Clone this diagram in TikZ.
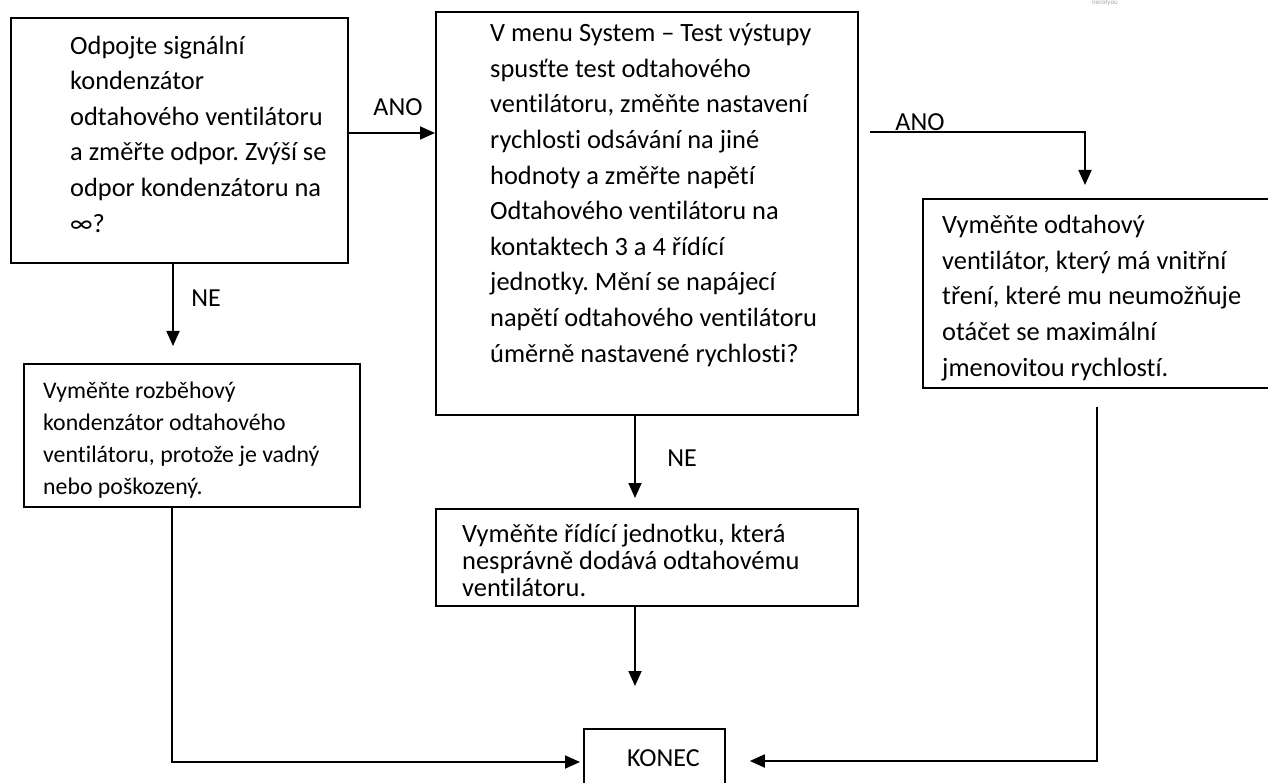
\documentclass[tikz,border=0pt]{standalone}
\usepackage{fontspec}
\setmainfont{Carlito}[Ligatures=NoCommon]
\usetikzlibrary{arrows.meta,calc,positioning}
\frenchspacing

\tikzset{
  box/.style={draw, line width=1.8pt, anchor=north west, inner sep=0pt},
  txt/.style={anchor=west, align=left, inner sep=0pt, font=\fontsize{26.4}{35.6}\selectfont},
  arr/.style={line width=1.8pt, -{Triangle[length=15pt,width=13pt]}},
  lbl/.style={inner sep=0pt, font=\fontsize{26}{30}\selectfont},
}

\begin{document}
\begin{tikzpicture}[x=1pt, y=-1pt]
  \useasboundingbox (0,0) rectangle (1268,783);
  % boxes
  \node[box, minimum width=337pt, minimum height=245pt] (q1) at (10,17) {};
  \node[box, minimum width=422pt, minimum height=403pt] (q2) at (435,11) {};
  \node[box, minimum width=336pt, minimum height=143pt] (a1) at (23,363) {};
  \node[box, minimum width=422pt, minimum height=97pt] (a2) at (435,508) {};
  \node[box, minimum width=352pt, minimum height=189pt] (a3) at (922,198) {};
  \node[box, lbl, minimum width=141pt, minimum height=58pt] (konec) at (583,728) {\kern18pt KONEC};
  % texts
  \node[txt] (q1t) at (70,134) {Odpojte signální\\kondenzátor\\odtahového ventilátoru\\a změřte odpor. Zvýší se\\odpor kondenzátoru na\\∞?};
  \node[txt] (q2t) at (490,195) {V menu System – Test výstupy\\spusťte test odtahového\\ventilátoru, změňte nastavení\\rychlosti odsávání na jiné\\hodnoty a změřte napětí\\Odtahového ventilátoru na\\kontaktech 3 a 4 řídící\\jednotky. Mění se napájecí\\napětí odtahového ventilátoru\\úměrně nastavené rychlosti?};
  \node[txt] (a3t) at (942,298) {Vyměňte odtahový\\ventilátor, který má vnitřní\\tření, které mu neumožňuje\\otáčet se maximální\\jmenovitou rychlostí.};
  \node[txt, font=\fontsize{23.8}{32}\selectfont] (a1t) at (43,440) {Vyměňte rozběhový\\kondenzátor odtahového\\ventilátoru, protože je vadný\\nebo poškozený.};
  \node[txt, font=\fontsize{26.4}{27}\selectfont] (a2t) at (462,560) {Vyměňte řídící jednotku, která\\nesprávně dodává odtahovému\\ventilátoru.};
  \node[text=black!35, inner sep=0pt, font=\fontsize{7}{7}\selectfont] (wm) at (1105,3) {nerofyou};
  % free ends
  \coordinate (yes2) at (870,132);
  \coordinate (t2) at (1085,185);
  \coordinate (r3) at (1097,407);
  % connectors
  \draw[arr] (q1.east |- 0,133) -- (q2.west |- 0,133);
  \node[lbl] (l1) at (398,107) {ANO};
  \draw[arr] (yes2) -| (t2);
  \node[lbl] (l2) at (920,122) {ANO};
  \draw[arr] (q1.south -| 173,0) -- (173,346);
  \node[lbl] (l3) at (206,298) {NE};
  \draw[arr] (q2.south -| 635,0) -- (635,498);
  \node[lbl] (l4) at (682,458) {NE};
  \draw[arr] (a2.south -| 635,0) -- (635,686);
  \draw[arr] (a1.south -| 172,0) |- ([xshift=-3pt]konec.west |- 0,762);
  \draw[arr] (r3) |- ([xshift=24pt]konec.east |- 0,761);
\end{tikzpicture}
\end{document}
